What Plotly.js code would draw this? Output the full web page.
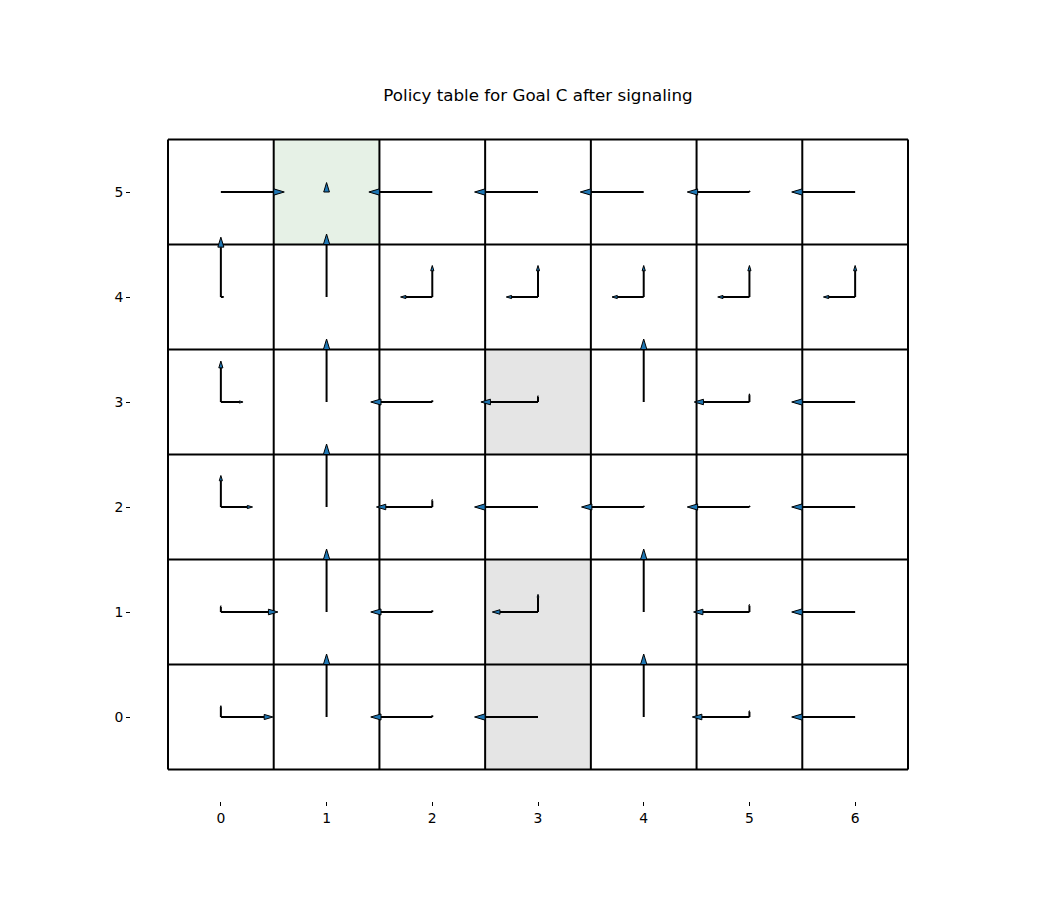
<!DOCTYPE html>
<html>
<head>
<meta charset="utf-8">
<script src="https://cdn.plot.ly/plotly-3.0.1.min.js"></script>
<style>html,body{margin:0;padding:0;background:#fff;}#chart{width:1050px;height:900px;}</style>
</head>
<body>
<div id="chart"></div>
<script>
// ---- data ----
const columns = [0, 1, 2, 3, 4, 5, 6];
const rows = [0, 1, 2, 3, 4, 5];
const titleText = "Policy table for Goal C after signaling";
// cell shading: 0 = plain, 1 = grey (blocked), 2 = green (goal)
const cellType = [
  [0, 0, 0, 1, 0, 0, 0],
  [0, 0, 0, 1, 0, 0, 0],
  [0, 0, 0, 0, 0, 0, 0],
  [0, 0, 0, 1, 0, 0, 0],
  [0, 0, 0, 0, 0, 0, 0],
  [0, 2, 0, 0, 0, 0, 0]
];
// action probabilities per cell, rows listed from y=0 upward
const pUp = [
  [0.18, 1.00, 0.03, 0.00, 1.00, 0.10, 0.00],
  [0.10, 1.00, 0.03, 0.28, 1.00, 0.12, 0.00],
  [0.50, 1.00, 0.12, 0.00, 0.02, 0.02, 0.00],
  [0.65, 1.00, 0.03, 0.10, 1.00, 0.13, 0.00],
  [0.95, 1.00, 0.50, 0.50, 0.50, 0.50, 0.50],
  [0.00, 0.00, 0.00, 0.00, 0.00, 0.02, 0.00]
];
const pDown = [
  [0, 0, 0, 0, 0, 0, 0],
  [0, 0, 0, 0, 0, 0, 0],
  [0, 0, 0, 0, 0, 0, 0],
  [0, 0, 0, 0, 0, 0, 0],
  [0, 0, 0, 0, 0, 0, 0],
  [0, 0, 0, 0, 0, 0, 0]
];
const pLeft = [
  [0.00, 0.00, 0.97, 1.00, 0.00, 0.90, 1.00],
  [0.00, 0.00, 0.97, 0.72, 0.00, 0.88, 1.00],
  [0.00, 0.00, 0.88, 1.00, 0.98, 0.98, 1.00],
  [0.00, 0.00, 0.97, 0.90, 0.00, 0.87, 1.00],
  [0.00, 0.00, 0.50, 0.50, 0.50, 0.50, 0.50],
  [0.00, 0.00, 1.00, 1.00, 1.00, 0.98, 1.00]
];
const pRight = [
  [0.82, 0, 0, 0, 0, 0, 0],
  [0.90, 0, 0, 0, 0, 0, 0],
  [0.50, 0, 0, 0, 0, 0, 0],
  [0.35, 0, 0, 0, 0, 0, 0],
  [0.05, 0, 0, 0, 0, 0, 0],
  [1.00, 0, 0, 0, 0, 0, 0]
];
const goalCell = [1, 5];

// ---- drawing ----
const SHAFT = 0.5, HEADLEN = 0.1, HEADW = 0.06;
const shaftX = [], shaftY = [], headX = [], headY = [];
function addArrow(cx, cy, ux, uy, p, shaftScale) {
  if (p <= 0) return;
  const L = SHAFT * p * shaftScale, hl = HEADLEN * p, hw = HEADW * p / 2;
  const bx = cx + ux * L, by = cy + uy * L;
  if (L > 0) { shaftX.push(cx, bx, null); shaftY.push(cy, by, null); }
  const px = -uy, py = ux;
  headX.push(bx + px * hw, bx + ux * hl, bx - px * hw, bx + px * hw, null);
  headY.push(by + py * hw, by + uy * hl, by - py * hw, by + py * hw, null);
}
rows.forEach((r, ri) => {
  columns.forEach((c, ci) => {
    addArrow(c, r, 0, 1, pUp[ri][ci], 1);
    addArrow(c, r, 0, -1, pDown[ri][ci], 1);
    addArrow(c, r, -1, 0, pLeft[ri][ci], 1);
    addArrow(c, r, 1, 0, pRight[ri][ci], 1);
  });
});
// goal marker: head only, no shaft
addArrow(goalCell[0], goalCell[1], 0, 1, 0.9, 0);

// grid lines
const gx = [], gy = [];
const x0 = columns[0] - 0.5, x1 = columns[columns.length - 1] + 0.5;
const y0 = rows[0] - 0.5, y1 = rows[rows.length - 1] + 0.5;
for (let i = 0; i <= columns.length; i++) { const x = x0 + i; gx.push(x, x, null); gy.push(y0, y1, null); }
for (let j = 0; j <= rows.length; j++) { const y = y0 + j; gx.push(x0, x1, null); gy.push(y, y, null); }

const traces = [
  {type: 'heatmap', x: columns, y: rows, z: cellType, zmin: 0, zmax: 2,
   colorscale: [[0, '#ffffff'], [0.5, '#e5e5e5'], [1, '#e6f1e6']],
   showscale: false, hoverinfo: 'skip'},
  {type: 'scatter', mode: 'lines', x: gx, y: gy, line: {color: '#000', width: 2}, hoverinfo: 'skip', showlegend: false},
  {type: 'scatter', mode: 'lines', x: shaftX, y: shaftY, line: {color: '#000', width: 2}, hoverinfo: 'skip', showlegend: false},
  {type: 'scatter', mode: 'lines', x: headX, y: headY, fill: 'toself', fillcolor: '#1f77b4',
   line: {color: '#000', width: 1}, hoverinfo: 'skip', showlegend: false}
];

const axisFont = {family: 'DejaVu Sans', size: 13.9, color: '#000'};
const layout = {
  width: 1050, height: 900,
  margin: {l: 131, r: 105, t: 108, b: 99},
  paper_bgcolor: '#fff', plot_bgcolor: '#fff',
  showlegend: false,
  title: {text: titleText, font: {family: 'DejaVu Sans', size: 16.7, color: '#000'},
          x: 0.5, xref: 'paper', xanchor: 'center', y: 1 - 95 / 900, yref: 'container', yanchor: 'middle'},
  xaxis: {range: [-0.85, 6.85], tickvals: columns, ticktext: columns.map(String),
          ticks: 'outside', ticklen: 4, tickwidth: 1, tickcolor: '#000',
          showgrid: false, zeroline: false, showline: false, tickfont: axisFont, fixedrange: true},
  yaxis: {range: [-0.8, 5.8], tickvals: rows, ticktext: rows.map(String),
          ticks: 'outside', ticklen: 4, tickwidth: 1, tickcolor: '#000',
          showgrid: false, zeroline: false, showline: false, tickfont: axisFont, fixedrange: true}
};
Plotly.newPlot('chart', traces, layout, {displayModeBar: false, staticPlot: true});
</script>
</body>
</html>
